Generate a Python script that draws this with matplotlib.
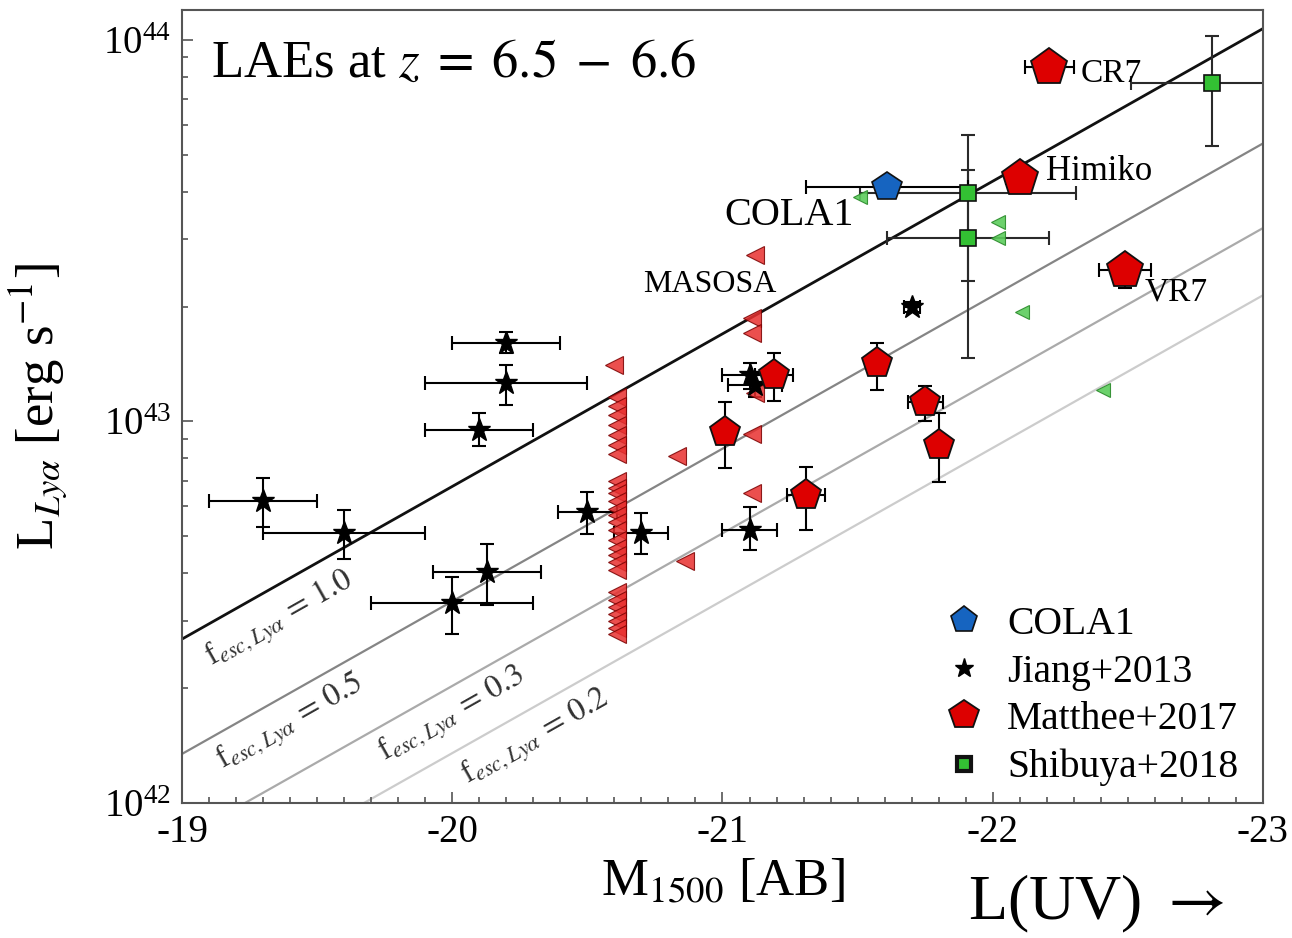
import matplotlib as mpl
mpl.use("Agg")
import matplotlib.pyplot as plt
import numpy as np
from matplotlib.lines import Line2D
from matplotlib.ticker import MultipleLocator, FuncFormatter, LogLocator, NullFormatter

plt.rcParams["font.family"] = ["Liberation Serif", "DejaVu Serif"]
plt.rcParams["mathtext.fontset"] = "stix"

# luminosities below are in units of 1e42 erg/s
# Jiang+2013 (stars)
JI_M = [-19.30, -19.60, -20.10, -20.20, -20.20, -20.00, -20.13, -20.50, -20.70, -21.10, -21.10, -21.12, -21.70]
JI_L = [6.2, 5.1, 9.5, 16.1, 12.6, 3.34, 4.03, 5.8, 5.1, 5.2, 13.2, 12.5, 20.0]
JI_LUP = [0.9, 0.75, 1.0, 1.1, 1.45, 0.57, 0.74, 0.74, 0.66, 0.78, 1.0, 0.9, 0.6]
JI_LLO = [0.9, 0.75, 0.9, 1.0, 1.55, 0.57, 0.73, 0.72, 0.61, 0.6, 1.0, 0.9, 0.6]
JI_MERR = [0.2, 0.3, 0.2, 0.2, 0.3, 0.3, 0.2, 0.11, 0.1, 0.1, 0.1, 0.1, 0.03]

# Matthee+2017 detections (pentagons); first three are CR7, Himiko, VR7
MA_M = [-22.21, -22.10, -22.49, -21.19, -21.01, -21.57, -21.75, -21.80, -21.31]
MA_L = [85.0, 43.5, 25.0, 13.2, 9.4, 14.2, 11.25, 8.7, 6.4]
MA_LUP = [3.0, 2.0, 2.0, 1.9, 1.86, 1.83, 1.14, 1.85, 1.2]
MA_LLO = [3.0, 2.0, 2.6, 1.86, 1.84, 2.14, 1.22, 1.78, 1.21]
MA_MERR = [0.09, 0.05, 0.095, 0.07, 0.02, 0.02, 0.065, 0.02, 0.07]

# Matthee+2017 limits (left triangles)
MAT_M = [-21.12, -21.11, -21.11, -21.12, -21.11, -20.83, -21.11, -20.86, -20.60]
MAT_L = [27.3, 18.7, 17.1, 11.9, 9.3, 8.1, 6.5, 4.3, 14.1]
COL_L = [11.6, 11.0, 10.4, 9.8, 9.2, 8.7, 8.2, 7.0, 6.7, 6.5, 6.2, 5.9, 5.7, 5.45,
         5.2, 4.9, 4.66, 4.47, 4.28, 4.08, 3.57, 3.40, 3.26, 3.13, 3.00, 2.87, 2.77]
COL_M = [-20.61] * len(COL_L)

# COLA1
CO_M, CO_L, CO_MERR = [-21.61], [41.2], [0.30]

# Shibuya+2018 squares and triangles
SH_M = [-22.81, -21.91, -21.91]
SH_L = [77.1, 39.7, 30.3]
SH_LUP = [25.3, 5.9, 26.1]
SH_LLO = [24.4, 16.35, 15.6]
SH_MERR = [0.3, 0.4, 0.3]
SHT_M = [-21.51, -22.02, -22.02, -22.11, -22.41]
SHT_L = [38.8, 33.3, 30.3, 19.4, 12.1]

# escape-fraction lines: L = f * L_REF * 10^(-0.4 (M + 19))
F_ESC = [1.0, 0.5, 0.3, 0.2]
F_COL = ["#111111", "#858585", "#aaaaaa", "#cccccc"]
L_REF = 2.69  # 1e42 erg/s at M = -19 for f = 1
M_LINE = np.array([-19.0, -23.0])
LAB_M = [-19.363, -19.40, -20.00, -20.31]
LAB_L = [3.02, 1.62, 1.70, 1.48]

E = 1e42

fig = plt.figure(figsize=(12.92, 9.38), dpi=100)
ax = fig.add_axes([0.1409, 0.1439, 0.8366, 0.8454])
ax.set_xlim(-19, -23)
ax.set_yscale("log")
ax.set_ylim(1e42, 1.198e44)

for f, c in zip(F_ESC, F_COL):
    ax.plot(M_LINE, f * L_REF * E * 10 ** (-0.4 * (M_LINE + 19)), color=c,
            lw=2.0 if f == 1.0 else 1.6, zorder=1)

# label rotation from the screen angle of the lines
p0 = ax.transData.transform((-19, L_REF * E))
p1 = ax.transData.transform((-23, L_REF * E * 10 ** 1.6))
ang = np.degrees(np.arctan2(p1[1] - p0[1], p1[0] - p0[0]))
for f, m, l in zip(F_ESC, LAB_M, LAB_L):
    ax.text(m, l * E, r"f$_{esc,Ly\alpha}\,=\,%.1f$" % f, rotation=ang, rotation_mode="anchor",
            ha="center", va="center", fontsize=23, color="#333333")

eb = dict(fmt="none", ecolor="black", elinewidth=1.5, capsize=5, capthick=1.5, zorder=2)

tri_kw = dict(ls="none", marker="<", ms=13, mfc="#e8302f", mec="#7a0000", mew=0.8, alpha=0.85, zorder=3)
ax.plot(COL_M, np.array(COL_L) * E, **tri_kw)
ax.plot(MAT_M, np.array(MAT_L) * E, **tri_kw)
ax.plot(SHT_M, np.array(SHT_L) * E, ls="none", marker="<", ms=10, mfc="#5ccc5c",
        mec="#2a8a2a", mew=0.8, alpha=0.9, zorder=3)

ax.errorbar(JI_M, np.array(JI_L) * E, yerr=[np.array(JI_LLO) * E, np.array(JI_LUP) * E],
            xerr=JI_MERR, **eb)
ax.plot(JI_M, np.array(JI_L) * E, ls="none", marker="*", ms=17, color="black", zorder=4)

ax.errorbar(SH_M, np.array(SH_L) * E, yerr=[np.array(SH_LLO) * E, np.array(SH_LUP) * E],
            xerr=SH_MERR, fmt="none", ecolor="#2a2a2a", elinewidth=1.5, capsize=5, capthick=1.5, zorder=2)
ax.plot(SH_M, np.array(SH_L) * E, ls="none", marker="s", ms=11, mfc="#33c033", mec="#111111",
        mew=1.2, zorder=4)

ax.errorbar(CO_M, np.array(CO_L) * E, xerr=CO_MERR, **eb)
ax.plot(CO_M, np.array(CO_L) * E, ls="none", marker="p", ms=22, mfc="#1664c0", mec="#111111",
        mew=1.2, zorder=5)

ax.errorbar(MA_M, np.array(MA_L) * E, yerr=[np.array(MA_LLO) * E, np.array(MA_LUP) * E],
            xerr=MA_MERR, **eb)
ax.plot(MA_M[:3], np.array(MA_L[:3]) * E, ls="none", marker="p", ms=28, mfc="#dd0000",
        mec="#111111", mew=1.3, zorder=5)
ax.plot(MA_M[3:], np.array(MA_L[3:]) * E, ls="none", marker="p", ms=23, mfc="#dd0000",
        mec="#111111", mew=1.3, zorder=5)

# object names
ax.text(-22.327, 77.6 * E, "CR7", fontsize=24, va="baseline")
ax.text(-22.197, 43.0 * E, "Himiko", fontsize=25, va="baseline")
ax.text(-21.006, 32.7 * E, "COLA1", fontsize=29, va="baseline")
ax.text(-22.563, 20.8 * E, "VR7", fontsize=24, va="baseline")
ax.text(-20.706, 21.8 * E, "MASOSA", fontsize=23, va="baseline")

ax.text(0.027, 0.9155, r"LAEs at $z\;=\;6.5\;-\;6.6$", transform=ax.transAxes, fontsize=38,
        va="baseline")

ax.xaxis.set_major_locator(MultipleLocator(1))
ax.xaxis.set_minor_locator(MultipleLocator(0.1))
ax.xaxis.set_major_formatter(FuncFormatter(lambda v, p: "%d" % round(v)))
ax.yaxis.set_major_locator(LogLocator(base=10, numticks=10))
ax.yaxis.set_minor_locator(LogLocator(base=10, subs=np.arange(2, 10), numticks=20))
ax.yaxis.set_minor_formatter(NullFormatter())
ax.tick_params(which="both", direction="in", top=False, right=False, color="#555555", width=1.2)
ax.tick_params(which="major", length=8, labelsize=28, pad=8)
ax.tick_params(which="minor", length=4)
for s in ax.spines.values():
    s.set_color("#555555")
    s.set_linewidth(1.5)

ax.set_xlabel(r"M$_{1500}$ [AB]", fontsize=38)
ax.set_ylabel(r"L$_{Ly\alpha}$ [erg s$^{-1}$]", fontsize=38)
ax.xaxis.set_label_coords(0.5, -0.069)
ax.yaxis.set_label_coords(-0.105, 0.5)

handles = [
    Line2D([], [], ls="none", marker="p", ms=20, mfc="#1664c0", mec="#111111", mew=1.2),
    Line2D([], [], ls="none", marker="*", ms=14, color="black"),
    Line2D([], [], ls="none", marker="p", ms=22, mfc="#dd0000", mec="#111111", mew=1.3),
    Line2D([], [], ls="none", marker="s", ms=10, mfc="#33c033", mec="#111111", mew=3),
]
labels = ["COLA1", "Jiang+2013", "Matthee+2017", "Shibuya+2018"]
ax.legend(handles, labels, loc="lower right", bbox_to_anchor=(1.003, -0.014), frameon=False,
          fontsize=28.5, handlelength=1.0, handletextpad=0.6, labelspacing=0.27, borderaxespad=0.3)

fig.text(0.749, 0.02, r"L(UV) $\rightarrow$", fontsize=46, va="baseline")

fig.savefig("out.png", dpi=100, facecolor="white")
